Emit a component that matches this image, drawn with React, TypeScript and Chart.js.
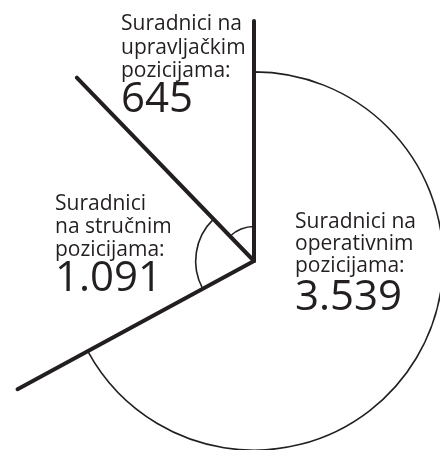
import React, { useEffect, useRef } from "react";
import { Chart, registerables } from "chart.js";

Chart.register(...registerables);

// ---- data ----
const categories = [
  "Suradnici na operativnim pozicijama:",
  "Suradnici na stručnim pozicijama:",
  "Suradnici na upravljačkim pozicijama:",
];
const values = [3539, 1091, 645];
const labelLines = [
  ["Suradnici na", "operativnim", "pozicijama:"],
  ["Suradnici", "na stručnim", "pozicijama:"],
  ["Suradnici na", "upravljačkim", "pozicijama:"],
];

// ---- style / layout ----
const INK = "#231f20";
const SCALE_MAX = 3480;
const separatorLengths = [240, 269, 255]; // length of thick line at each slice's start edge
const labelPos = [
  { x: 295, y: 228, lh: 22, numGap: 38 },
  { x: 55, y: 210, lh: 23, numGap: 35 },
  { x: 121, y: 30, lh: 23.5, numGap: 35 },
];
const TEXT_FONT = '21px "Open Sans", "DejaVu Sans", sans-serif';
const NUM_FONT = '42px "Open Sans", "DejaVu Sans", sans-serif';

const total = values.reduce((a, b) => a + b, 0);

function fmt(n: number): string {
  return String(n).replace(/\B(?=(\d{3})+(?!\d))/g, ".");
}

const decorPlugin = {
  id: "decor",
  afterDatasetsDraw(chart: any) {
    const ctx = chart.ctx;
    const meta = chart.getDatasetMeta(0);
    ctx.save();
    ctx.strokeStyle = INK;
    ctx.lineWidth = 4;
    ctx.lineCap = "round";
    meta.data.forEach((arc: any, i: number) => {
      const a = arc.startAngle;
      const len = separatorLengths[i];
      ctx.beginPath();
      ctx.moveTo(arc.x, arc.y);
      ctx.lineTo(arc.x + Math.cos(a) * len, arc.y + Math.sin(a) * len);
      ctx.stroke();
    });
    ctx.restore();
  },
  afterDraw(chart: any) {
    const ctx = chart.ctx;
    ctx.save();
    ctx.fillStyle = INK;
    ctx.textAlign = "left";
    ctx.textBaseline = "alphabetic";
    labelLines.forEach((lines, i) => {
      const p = labelPos[i];
      ctx.font = TEXT_FONT;
      lines.forEach((t, j) => ctx.fillText(t, p.x, p.y + j * p.lh));
      ctx.font = NUM_FONT;
      ctx.fillText(fmt(values[i]), p.x, p.y + (lines.length - 1) * p.lh + p.numGap);
    });
    ctx.restore();
  },
};

export default function App() {
  const ref = useRef<HTMLCanvasElement | null>(null);
  useEffect(() => {
    if (!ref.current) return;
    const chart = new Chart(ref.current, {
      type: "polarArea",
      data: {
        labels: categories,
        datasets: [
          {
            data: values,
            backgroundColor: "rgba(255,255,255,0)",
            borderColor: INK,
            borderWidth: 1.6,
            angle: values.map((v) => (360 * v) / total),
            clip: false,
          } as any,
        ],
      },
      options: {
        responsive: false,
        animation: false,
        layout: { padding: { left: 68, right: 0, top: 72, bottom: 0 } },
        scales: {
          r: {
            display: false,
            min: 0,
            max: SCALE_MAX,
            startAngle: 0,
          },
        },
        plugins: {
          legend: { display: false },
          tooltip: { enabled: false },
        },
      },
      plugins: [decorPlugin],
    });
    return () => chart.destroy();
  }, []);
  return (
    <div style={{ position: "fixed", left: 0, top: 0, width: 440, height: 450, background: "#fff" }}>
      <canvas ref={ref} width={440} height={450} style={{ display: "block" }} />
    </div>
  );
}
